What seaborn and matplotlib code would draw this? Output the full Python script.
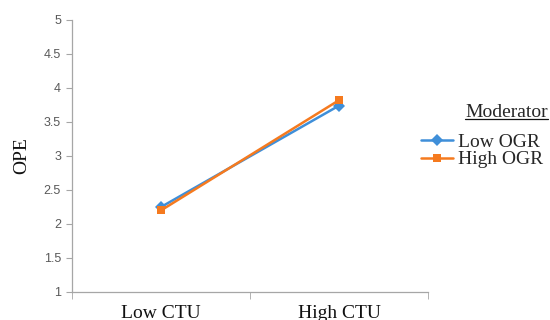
import matplotlib
matplotlib.use("Agg")
import matplotlib.pyplot as plt
import seaborn as sns
import pandas as pd
from matplotlib.ticker import FixedLocator
from matplotlib.lines import Line2D

# data
ctu_levels = ['Low CTU', 'High CTU']
low_ogr = [2.25, 3.74]
high_ogr = [2.20, 3.82]
series_names = ['Low OGR', 'High OGR']
y_ticks = [1, 1.5, 2, 2.5, 3, 3.5, 4, 4.5, 5]
y_tick_labels = ['1', '1.5', '2', '2.5', '3', '3.5', '4', '4.5', '5']

df = pd.DataFrame({
    'CTU': ctu_levels * 2,
    'OPE': low_ogr + high_ogr,
    'Moderator': [series_names[0]] * 2 + [series_names[1]] * 2,
})

sns.set_style('white')

fig = plt.figure(figsize=(5.5, 3.2), dpi=100)
ax = fig.add_axes([0.131, 0.0875, 0.647, 0.85])

sns.lineplot(data=df, x='CTU', y='OPE', hue='Moderator', style='Moderator',
             markers=['D', 's'], dashes=False, markersize=6, linewidth=1.8,
             markeredgewidth=0, palette=['#3F8FD9', '#F57A1F'], ax=ax)

ax.set_xlim(-0.5, 1.5)
ax.set_ylim(1, 5)
ax.set_yticks(y_ticks)
ax.set_yticklabels(y_tick_labels, family='Liberation Sans', fontsize=9, color='#595959')
ax.set_xticks([0, 1])
ax.set_xticklabels(ctu_levels, family='Liberation Serif', fontsize=14, color='#111111')
ax.xaxis.set_minor_locator(FixedLocator([-0.5, 0.5, 1.5]))
ax.tick_params(axis='x', which='major', length=0, pad=9)
ax.tick_params(axis='x', which='minor', length=5, color='#A6A6A6', direction='out', bottom=True)
ax.tick_params(axis='y', length=4, color='#A6A6A6', direction='out', left=True, pad=4)

ax.set_xlabel('')
ax.set_ylabel('OPE', family='Liberation Serif', fontsize=14, color='#111111', labelpad=10)

for side in ['top', 'right']:
    ax.spines[side].set_visible(False)
for side in ['left', 'bottom']:
    ax.spines[side].set_color('#A6A6A6')
    ax.spines[side].set_linewidth(0.9)

handles, labels = ax.get_legend_handles_labels()
leg = ax.legend(handles, labels, title='Moderator',
                loc='upper left', bbox_to_anchor=(0.765, 0.674),
                bbox_transform=fig.transFigure, frameon=False,
                prop={'family': 'Liberation Serif', 'size': 14},
                title_fontproperties={'family': 'Liberation Serif', 'size': 14},
                handlelength=1.65, handletextpad=0.25,
                labelspacing=0.0, borderpad=0, borderaxespad=0)
leg._legend_box.align = 'right'
leg._legend_box.sep = 8.6

# underline the legend title
fig.canvas.draw()
title = leg.get_title()
title.set_x(5)
fig.canvas.draw()
bb = title.get_window_extent().transformed(fig.transFigure.inverted())
fig.add_artist(Line2D([bb.x0, bb.x1], [bb.y0 + 0.008, bb.y0 + 0.008],
                      transform=fig.transFigure, color='#111111', linewidth=0.9))

fig.savefig('out.png', dpi=100)
